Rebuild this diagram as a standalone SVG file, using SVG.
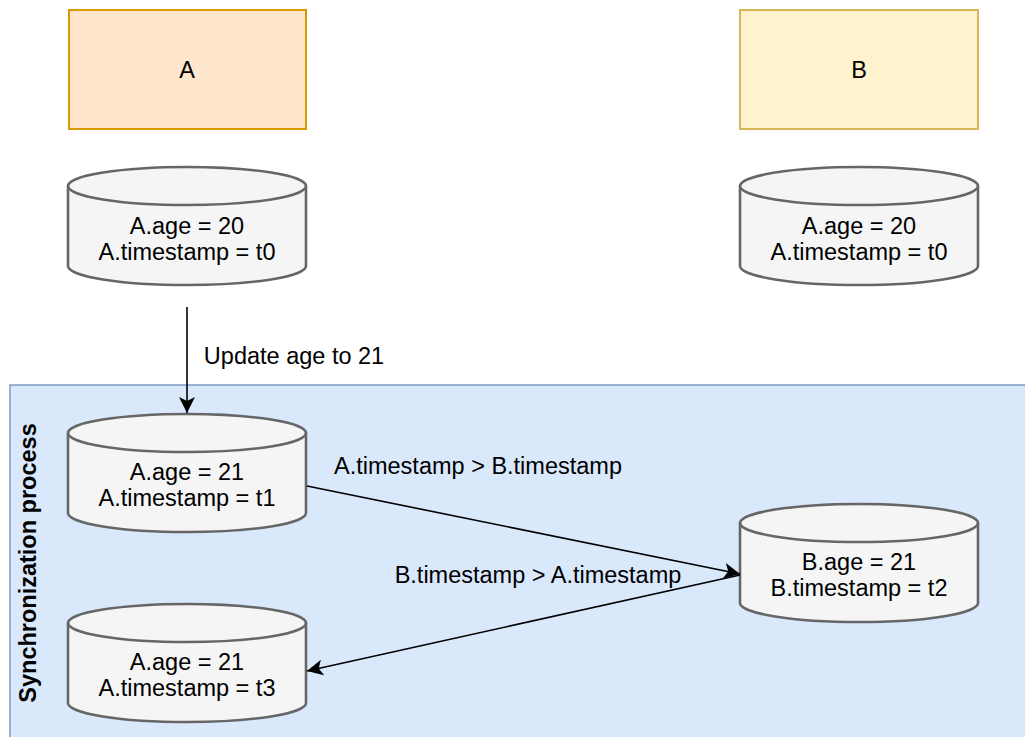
<svg xmlns="http://www.w3.org/2000/svg" width="1025" height="737" viewBox="0 0 1025 737">
<style>
.t{font-family:"Liberation Sans",Arial,Helvetica,sans-serif;font-size:23.5px;fill:#000;text-anchor:middle}
.cyl{fill:#f5f5f5;stroke:#666666;stroke-width:2.6}
.cylt{fill:none;stroke:#666666;stroke-width:2.6}
.edge{fill:none;stroke:#000;stroke-width:1.6}
</style>
<defs>
<marker id="arr" markerUnits="userSpaceOnUse" viewBox="0 0 16 16" refX="16" refY="8" markerWidth="16" markerHeight="16" orient="auto">
<path d="M0,0 L16,8 L0,16 L4,8 Z" fill="#000"/>
</marker>
</defs>
<rect width="1025" height="737" fill="#ffffff"/>
<g id="container">
<rect x="10" y="385" width="1030" height="370" fill="#dae8fc" stroke="#6c8ebf" stroke-width="1.3"/>
<text class="t" transform="translate(36,563) rotate(-90)" style="font-weight:bold">Synchronization process</text>
</g>
<g id="nodeA">
<rect x="69" y="10" width="237" height="119" fill="#ffe6cc" stroke="#d79b00" stroke-width="2"/>
<text class="t" x="187" y="78">A</text>
</g>
<g id="nodeB">
<rect x="740" y="10" width="238" height="119" fill="#fff2cc" stroke="#d6b656" stroke-width="2"/>
<text class="t" x="859" y="78">B</text>
</g>
<g id="dbA0">
<path class="cyl" d="M68,186 a119,19 0 0 1 238,0 v80 a119,19 0 0 1 -238,0 Z"/>
<path class="cylt" d="M68,186 a119,19 0 0 0 238,0"/>
<text class="t" x="187" y="234">A.age = 20</text>
<text class="t" x="187" y="260">A.timestamp = t0</text>
</g>
<g id="dbB0">
<path class="cyl" d="M740,186 a119,19 0 0 1 238,0 v80 a119,19 0 0 1 -238,0 Z"/>
<path class="cylt" d="M740,186 a119,19 0 0 0 238,0"/>
<text class="t" x="859" y="234">A.age = 20</text>
<text class="t" x="859" y="260">A.timestamp = t0</text>
</g>
<g id="dbA1">
<path class="cyl" d="M68,433 a119,19 0 0 1 238,0 v80 a119,19 0 0 1 -238,0 Z"/>
<path class="cylt" d="M68,433 a119,19 0 0 0 238,0"/>
<text class="t" x="187" y="480">A.age = 21</text>
<text class="t" x="187" y="506">A.timestamp = t1</text>
</g>
<g id="dbB2">
<path class="cyl" d="M740,523 a119,19 0 0 1 238,0 v80 a119,19 0 0 1 -238,0 Z"/>
<path class="cylt" d="M740,523 a119,19 0 0 0 238,0"/>
<text class="t" x="859" y="570">B.age = 21</text>
<text class="t" x="859" y="596">B.timestamp = t2</text>
</g>
<g id="dbA3">
<path class="cyl" d="M68,623 a119,19 0 0 1 238,0 v80 a119,19 0 0 1 -238,0 Z"/>
<path class="cylt" d="M68,623 a119,19 0 0 0 238,0"/>
<text class="t" x="187" y="670">A.age = 21</text>
<text class="t" x="187" y="696">A.timestamp = t3</text>
</g>
<g id="connectors">
<line class="edge" x1="187" y1="307" x2="187" y2="413" marker-end="url(#arr)"/>
<text class="t" x="294" y="364">Update age to 21</text>
<line class="edge" x1="307" y1="486" x2="740" y2="574" marker-end="url(#arr)"/>
<text class="t" x="478" y="474">A.timestamp &gt; B.timestamp</text>
<line class="edge" x1="740" y1="575" x2="307" y2="671" marker-end="url(#arr)"/>
<text class="t" x="538" y="583">B.timestamp &gt; A.timestamp</text>
</g>
</svg>
